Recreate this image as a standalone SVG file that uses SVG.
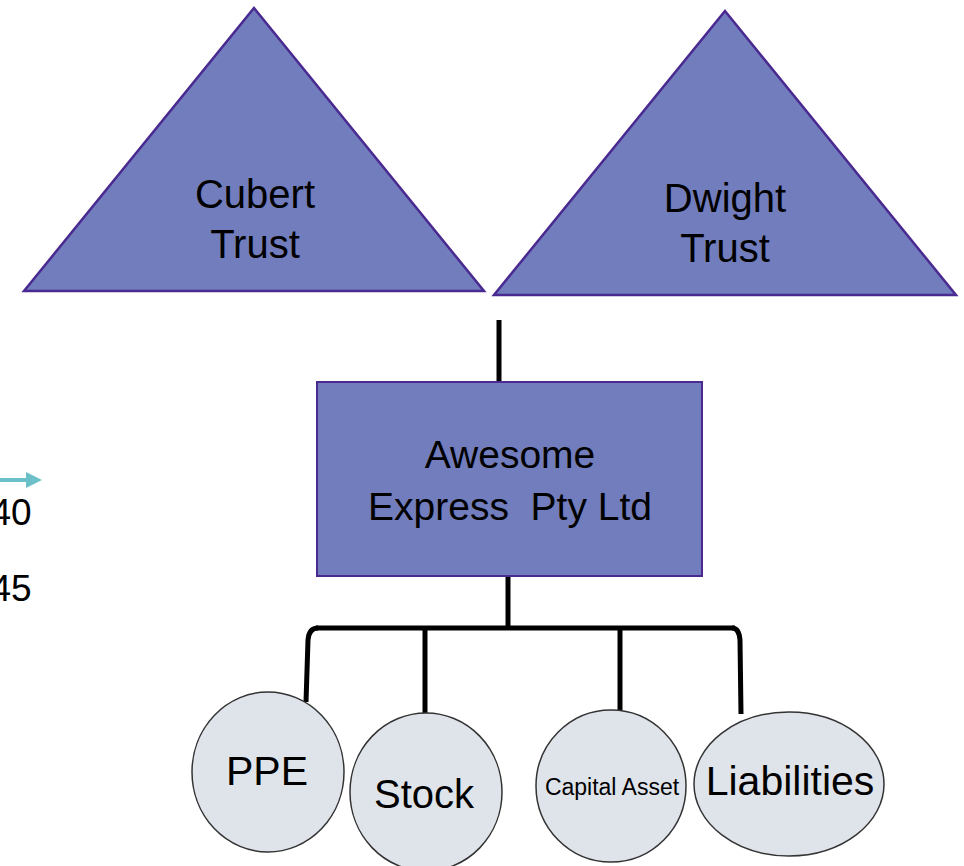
<svg xmlns="http://www.w3.org/2000/svg" width="964" height="866" viewBox="0 0 964 866">
<style>
.tri{fill:#717dbc;stroke:#4a2a90;stroke-width:2.5}
.box{fill:#717dbc;stroke:#4a2a90;stroke-width:2}
.ell{fill:#dfe3ea;stroke:#333;stroke-width:1.5}
.t{font-family:"Liberation Sans",Arial,sans-serif;fill:#000;text-anchor:middle}
.ln{stroke:#000;stroke-width:5;fill:none}
</style>
<rect width="964" height="866" fill="#fff"/>
<g id="side">
<path d="M0 480 H28" stroke="#6cc0c8" stroke-width="4"/>
<polygon points="26,472 42,480 26,488" fill="#6cc0c8"/>
<text class="t" x="11" y="525" font-size="37">40</text>
<text class="t" x="11" y="601" font-size="37">45</text>
</g>
<g id="connectors">
<path class="ln" d="M499 320 V382"/>
<path class="ln" d="M508 576 V627"/>
<path class="ln" d="M316 628 H735"/>
<path class="ln" d="M306 702 L308 640 Q309 628 318 628"/>
<path class="ln" d="M425 628 V716"/>
<path class="ln" d="M620 628 V712"/>
<path class="ln" d="M741 714 L740 640 Q739 628 732 628"/>
</g>
<g id="cubert">
<polygon class="tri" points="254,8 484,291 24,291"/>
<text class="t" x="255" y="208" font-size="40">Cubert</text>
<text class="t" x="255" y="258" font-size="40">Trust</text>
</g>
<g id="dwight">
<polygon class="tri" points="725,11 956,295 494,295"/>
<text class="t" x="725" y="212" font-size="40">Dwight</text>
<text class="t" x="725" y="262" font-size="40">Trust</text>
</g>
<g id="awesome">
<rect class="box" x="317" y="382" width="385" height="194"/>
<text class="t" x="510" y="468" font-size="39">Awesome</text>
<text class="t" x="510" y="520" font-size="39" style="white-space:pre">Express  Pty Ltd</text>
</g>
<g id="ppe">
<ellipse class="ell" cx="268" cy="772" rx="76" ry="80"/>
<text class="t" x="267" y="785" font-size="41">PPE</text>
</g>
<g id="stock">
<ellipse class="ell" cx="426" cy="792" rx="76" ry="79"/>
<text class="t" x="424" y="808" font-size="40">Stock</text>
</g>
<g id="capital">
<ellipse class="ell" cx="611" cy="786" rx="75" ry="76"/>
<text class="t" x="612" y="795" font-size="23">Capital Asset</text>
</g>
<g id="liabilities">
<ellipse class="ell" cx="789" cy="784" rx="95" ry="72"/>
<text class="t" x="790" y="795" font-size="41">Liabilities</text>
</g>
</svg>
